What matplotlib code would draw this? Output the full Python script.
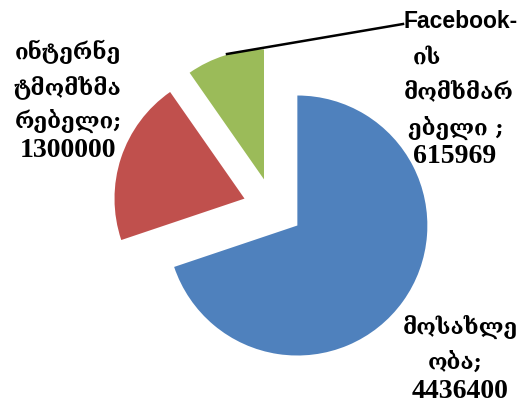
import matplotlib
matplotlib.use("Agg")
import matplotlib.pyplot as plt

categories = ["მოსახლეობა", "ინტერნეტმომხმარებელი", "Facebook-ის მომხმარებელი"]
values = [4436400, 1300000, 615969]
colors = ["#4F81BD", "#C0504D", "#9BBB59"]

W, H = 521, 406
fig = plt.figure(figsize=(W / 100, H / 100), dpi=100)
ax = fig.add_axes([0, 0, 1, 1])

ax.pie(values, colors=colors, startangle=90, counterclock=False,
       center=(273, H - 209), radius=130, explode=[30, 30, 30],
       wedgeprops=dict(linewidth=0))
ax.set_xlim(0, W)
ax.set_ylim(0, H)
ax.set_aspect("equal")
ax.axis("off")

geo = ["DejaVu Serif", "DejaVu Sans"]
num = ["Liberation Serif", "DejaVu Sans"]
fs = 16

def line(x, y, s, fam, size=fs):
    ax.text(x, H - y, s, ha="center", va="center", family=fam,
            fontweight="bold", fontsize=size, color="black")

# left label (internet users)
line(68, 52, "ინტერნე", geo)
line(68, 87, "ტმომხმა", geo)
line(68, 121, "რებელი;", geo)
line(68, 151, f"{values[1]}", num, 20)

# right label (facebook users)
line(461, 22, "Facebook-", ["Liberation Sans", "DejaVu Sans"], 16.5)
line(427, 58, "ის", geo)
line(459, 92, "მომხმარ", geo)
line(456, 128, "ებელი ;", geo)
line(455, 157, f"{values[2]}", num, 20)

# bottom label (population)
line(460, 327, "მოსახლე", geo)
line(455, 363, "ობა;", geo)
line(460, 392, f"{values[0]}", num, 20)

# leader line to green slice
ax.plot([227, 403], [H - 55, H - 25], color="black", lw=1.8)

fig.savefig("out.png", dpi=100)
